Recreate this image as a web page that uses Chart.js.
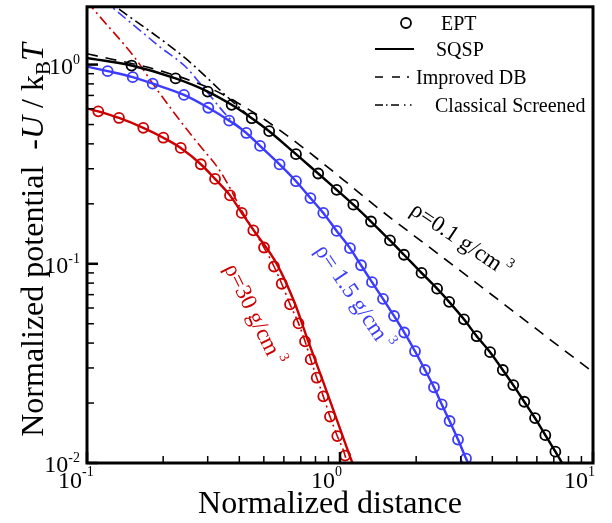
<!DOCTYPE html>
<html>
<head>
<meta charset="utf-8">
<script src="https://cdn.jsdelivr.net/npm/chart.js@4/dist/chart.umd.min.js"></script>
<style>
  html, body { margin: 0; padding: 0; background: #fff; }
  canvas { display: block; }
</style>
</head>
<body>
<canvas id="c" width="612" height="523" style="width:612px;height:523px"></canvas>
<script>
// ---------- ρ = 0.1 g/cm³ (black) ----------
const ept01X = [0.150, 0.224, 0.300, 0.373, 0.448, 0.525, 0.670, 0.820, 0.970, 1.129, 1.326, 1.576, 1.79, 2.10, 2.42, 2.70, 3.09, 3.47, 3.92, 4.40, 4.84, 5.35, 5.90, 6.48, 7.10];
const ept01Y = [0.989, 0.852, 0.732, 0.628, 0.538, 0.463, 0.355, 0.284, 0.235, 0.198, 0.163, 0.131, 0.111, 0.090, 0.075, 0.0644, 0.0526, 0.0433, 0.0360, 0.0293, 0.0246, 0.0203, 0.0168, 0.0138, 0.0114];
const sqsp01X = [0.1, 0.150, 0.224, 0.300, 0.373, 0.448, 0.525, 0.670, 0.820, 0.970, 1.129, 1.326, 1.576, 1.79, 2.10, 2.42, 2.70, 3.09, 3.47, 3.92, 4.40, 4.84, 5.35, 5.90, 6.48, 7.10, 7.55];
const sqsp01Y = [1.08, 0.989, 0.852, 0.732, 0.628, 0.538, 0.463, 0.355, 0.284, 0.235, 0.198, 0.163, 0.131, 0.111, 0.090, 0.075, 0.0644, 0.0526, 0.0433, 0.0360, 0.0293, 0.0246, 0.0203, 0.0168, 0.0138, 0.0114, 0.0100];
const db01X = [0.1, 0.197, 0.321, 0.448, 0.521, 0.738, 1.031, 1.439, 2.2, 3.265, 7.19, 10];
const db01Y = [1.134, 0.927, 0.740, 0.582, 0.514, 0.371, 0.264, 0.187, 0.124, 0.0847, 0.0393, 0.0286];
const cs01X = [0.1, 0.133, 0.244, 0.373, 0.448, 0.525, 0.670, 0.820, 0.970, 1.129, 1.326, 1.576, 1.79, 2.10, 2.42, 2.70, 3.09, 3.47, 3.92, 4.40, 4.84, 5.35, 5.90, 6.48, 7.10, 7.55];
const cs01Y = [2.50, 1.91, 1.08, 0.658, 0.538, 0.463, 0.355, 0.284, 0.235, 0.198, 0.163, 0.131, 0.111, 0.090, 0.075, 0.0644, 0.0526, 0.0433, 0.0360, 0.0293, 0.0246, 0.0203, 0.0168, 0.0138, 0.0114, 0.0100];

// ---------- ρ = 1.5 g/cm³ (blue) ----------
const ept15X = [0.1207, 0.1516, 0.1818, 0.2417, 0.3016, 0.3648, 0.4263, 0.4829, 0.577, 0.670, 0.764, 0.859, 0.970, 1.095, 1.211, 1.338, 1.479, 1.635, 1.794, 1.979, 2.168, 2.352, 2.523, 2.711, 2.927, 3.148];
const ept15Y = [0.927, 0.865, 0.802, 0.704, 0.607, 0.523, 0.4536, 0.3905, 0.3154, 0.2597, 0.2138, 0.180, 0.1462, 0.1198, 0.0983, 0.0809, 0.0667, 0.0547, 0.0452, 0.0364, 0.0293, 0.0240, 0.0197, 0.01625, 0.01311, 0.01053];
const sqsp15X = [0.1, 0.1207, 0.1516, 0.1818, 0.2417, 0.3016, 0.3648, 0.4263, 0.4829, 0.577, 0.670, 0.764, 0.859, 0.970, 1.095, 1.211, 1.338, 1.479, 1.635, 1.794, 1.979, 2.168, 2.352, 2.523, 2.711, 2.927, 3.148, 3.206];
const sqsp15Y = [0.977, 0.927, 0.865, 0.802, 0.704, 0.607, 0.523, 0.4536, 0.3905, 0.3154, 0.2597, 0.2138, 0.180, 0.1462, 0.1198, 0.0983, 0.0809, 0.0667, 0.0547, 0.0452, 0.0364, 0.0293, 0.0240, 0.0197, 0.01625, 0.01311, 0.01053, 0.0100];
const cs15X = [0.1, 0.1252, 0.197, 0.2442, 0.284, 0.362, 0.4263, 0.4829, 0.577, 0.670, 0.764, 0.859, 0.970, 1.095, 1.211, 1.338, 1.479, 1.635, 1.794, 1.979, 2.168, 2.352, 2.523, 2.711, 2.927, 3.148, 3.206];
const cs15Y = [2.46, 1.947, 1.21, 0.981, 0.787, 0.544, 0.4536, 0.3905, 0.3154, 0.2597, 0.2138, 0.180, 0.1462, 0.1198, 0.0983, 0.0809, 0.0667, 0.0547, 0.0452, 0.0364, 0.0293, 0.0240, 0.0197, 0.01625, 0.01311, 0.01053, 0.0100];

// ---------- ρ = 30 g/cm³ (red) ----------
const ept30X = [0.1108, 0.1338, 0.1669, 0.2003, 0.2347, 0.2818, 0.3207, 0.3675, 0.4089, 0.4543, 0.5008, 0.5486, 0.5884, 0.6346, 0.6855, 0.7274, 0.7661, 0.8090, 0.859, 0.913, 0.9757, 1.047];
const ept30Y = [0.5824, 0.5395, 0.4813, 0.4294, 0.3816, 0.3160, 0.2667, 0.2205, 0.1801, 0.1472, 0.1207, 0.0969, 0.0794, 0.0626, 0.0502, 0.0408, 0.0331, 0.0268, 0.0216, 0.0171, 0.01365, 0.01090];
const sqsp30X = [0.1, 0.1108, 0.1338, 0.1669, 0.2003, 0.2347, 0.2818, 0.3207, 0.3675, 0.4089, 0.457, 0.5637, 0.664, 0.747, 0.845, 0.960, 1.090, 1.120];
const sqsp30Y = [0.603, 0.5824, 0.5395, 0.4813, 0.4294, 0.3816, 0.3160, 0.2667, 0.2205, 0.1801, 0.1466, 0.0994, 0.0630, 0.0412, 0.0270, 0.0172, 0.01096, 0.0100];
const cs30X = [0.1, 0.1126, 0.1548, 0.1828, 0.2227, 0.2754, 0.3303, 0.3675, 0.4089, 0.4543, 0.5008, 0.5486, 0.5884, 0.6346, 0.6855, 0.7274, 0.7661, 0.8090, 0.859, 0.913, 0.9757, 1.047, 1.065];
const cs30Y = [2.07, 1.736, 1.08, 0.796, 0.565, 0.400, 0.301, 0.240, 0.1850, 0.1480, 0.1207, 0.0969, 0.0794, 0.0626, 0.0502, 0.0408, 0.0331, 0.0268, 0.0216, 0.0171, 0.01365, 0.01090, 0.0098];

// ---------- axes ----------
const xRange = [0.1, 10];
const yRange = [0.01, 1.95];
const xTickExps = [-1, 0, 1];
const yTickExps = [-2, -1, 0];
const minorSteps = [2, 3, 4, 5, 6, 7, 8, 9];

// ---------- text ----------
const legendLabels = ['EPT', 'SQSP', 'Improved DB', 'Classical Screened'];
const curveLabels = [
  { text: 'ρ=0.1 g/cm', sup: '3', color: '#000000' },
  { text: 'ρ= 1.5 g/cm', sup: '3', color: '#3c3cff' },
  { text: 'ρ=30 g/cm', sup: '3', color: '#cc0000' }
];

const BLACK = '#000000', BLUE = '#3c3cff', RED = '#cc0000';
const FONT = "'Liberation Serif', 'Times New Roman', serif";
const DASH = [11, 8];
const DASHDOT = [10, 4, 2, 4];

const pts = (xs, ys) => xs.map((x, i) => ({ x: x, y: ys[i] }));
const marks = (xs, ys, c) => ({
  data: pts(xs, ys), showLine: false, pointRadius: 5, pointHoverRadius: 5,
  pointBorderWidth: 1.8, pointBorderColor: c, pointBackgroundColor: 'rgba(0,0,0,0)'
});
const curve = (xs, ys, c, w, dash) => ({
  data: pts(xs, ys), showLine: true, borderColor: c, borderWidth: w, borderDash: dash,
  pointRadius: 0, pointHoverRadius: 0, cubicInterpolationMode: 'monotone', fill: false
});

function drawPower(ctx, exp, x, baseY, supDy, alignRight, size, supSize) {
  const base = '10', sup = String(exp);
  ctx.font = size + 'px ' + FONT;
  const wb = ctx.measureText(base).width;
  ctx.font = supSize + 'px ' + FONT;
  const ws = ctx.measureText(sup).width;
  const x0 = alignRight ? x - wb - ws : x - wb;
  ctx.font = size + 'px ' + FONT;
  ctx.fillText(base, x0, baseY);
  ctx.font = supSize + 'px ' + FONT;
  ctx.fillText(sup, x0 + wb, baseY - supDy);
}

const decorations = {
  id: 'decorations',
  afterDatasetsDraw(chart) {
    const { ctx, chartArea: a, scales } = chart;
    const sx = scales.x, sy = scales.y;
    ctx.save();
    ctx.strokeStyle = BLACK;
    ctx.fillStyle = BLACK;
    ctx.setLineDash([]);
    // inward ticks on bottom axis
    xTickExps.forEach((e, k) => {
      const d = Math.pow(10, e);
      const px = sx.getPixelForValue(d);
      ctx.lineWidth = 2.5;
      ctx.beginPath(); ctx.moveTo(px, a.bottom); ctx.lineTo(px, a.bottom - 11); ctx.stroke();
      if (k < xTickExps.length - 1) {
        minorSteps.forEach(m => {
          const mx = sx.getPixelForValue(m * d);
          ctx.lineWidth = 1.5;
          ctx.beginPath(); ctx.moveTo(mx, a.bottom); ctx.lineTo(mx, a.bottom - 7); ctx.stroke();
        });
      }
    });
    // inward ticks on left axis
    yTickExps.forEach(e => {
      const d = Math.pow(10, e);
      const py = sy.getPixelForValue(d);
      ctx.lineWidth = 2.5;
      ctx.beginPath(); ctx.moveTo(a.left, py); ctx.lineTo(a.left + 11, py); ctx.stroke();
      minorSteps.forEach(m => {
        const v = m * d;
        if (v > yRange[1]) return;
        const my = sy.getPixelForValue(v);
        ctx.lineWidth = 1.5;
        ctx.beginPath(); ctx.moveTo(a.left, my); ctx.lineTo(a.left + 7, my); ctx.stroke();
      });
    });
    // frame
    ctx.lineWidth = 3;
    ctx.strokeRect(a.left, a.top, a.right - a.left, a.bottom - a.top);
    ctx.restore();
  },
  afterDraw(chart) {
    const { ctx, chartArea: a, scales } = chart;
    const sx = scales.x, sy = scales.y;
    ctx.save();
    ctx.fillStyle = BLACK;
    ctx.textBaseline = 'alphabetic';
    ctx.textAlign = 'left';

    // tick labels
    xTickExps.forEach(e => {
      const px = sx.getPixelForValue(Math.pow(10, e));
      drawPower(ctx, e, px - 5, a.bottom + 25, 12, false, 24, 14);
    });
    yTickExps.forEach(e => {
      const py = sy.getPixelForValue(Math.pow(10, e));
      drawPower(ctx, e, 80, py + 9, 10, true, 24, 14);
    });

    // axis titles
    ctx.font = '32px ' + FONT;
    ctx.textAlign = 'center';
    ctx.fillText('Normalized distance', 330, 513);
    ctx.textAlign = 'left';

    const parts = [
      { t: 'Normalized potential  -', f: '32px ' + FONT, dy: 0 },
      { t: 'U', f: 'italic 32px ' + FONT, dy: 0 },
      { t: ' / k', f: '32px ' + FONT, dy: 0 },
      { t: 'B', f: '21px ' + FONT, dy: 7 },
      { t: 'T', f: 'italic 32px ' + FONT, dy: 0 }
    ];
    let total = 0;
    parts.forEach(p => { ctx.font = p.f; p.w = ctx.measureText(p.t).width; total += p.w; });
    ctx.save();
    ctx.translate(43, 240);
    ctx.rotate(-Math.PI / 2);
    let cx = -total / 2;
    parts.forEach(p => { ctx.font = p.f; ctx.fillText(p.t, cx, p.dy); cx += p.w; });
    ctx.restore();

    // legend
    ctx.font = '20px ' + FONT;
    ctx.lineWidth = 1.8;
    ctx.strokeStyle = BLACK;
    ctx.beginPath(); ctx.arc(406, 23, 5, 0, Math.PI * 2); ctx.stroke();
    ctx.fillText(legendLabels[0], 441, 30);
    ctx.lineWidth = 2.2;
    ctx.beginPath(); ctx.moveTo(375, 49); ctx.lineTo(414, 49); ctx.stroke();
    ctx.fillText(legendLabels[1], 436, 56);
    ctx.lineWidth = 1.6;
    ctx.setLineDash([8, 9, 8, 7, 2, 100]);
    ctx.beginPath(); ctx.moveTo(375, 77); ctx.lineTo(410, 77); ctx.stroke();
    ctx.fillText(legendLabels[2], 416, 84);
    ctx.setLineDash([8, 3, 1.5, 3.5, 8, 5, 1.5, 4.5, 1.5, 100]);
    ctx.beginPath(); ctx.moveTo(375, 105); ctx.lineTo(414, 105); ctx.stroke();
    ctx.setLineDash([]);
    ctx.fillText(legendLabels[3], 435, 112);

    // curve labels
    const place = [
      { x: 409, y: 213, ang: 34 },
      { x: 314.6, y: 250.5, ang: 56 },
      { x: 224, y: 268, ang: 64 }
    ];
    curveLabels.forEach((c, i) => {
      const p = place[i];
      ctx.save();
      ctx.translate(p.x, p.y);
      ctx.rotate(p.ang * Math.PI / 180);
      ctx.fillStyle = c.color;
      ctx.font = '23px ' + FONT;
      ctx.fillText(c.text, 0, 0);
      const w = ctx.measureText(c.text).width;
      ctx.font = '14px ' + FONT;
      ctx.fillText(c.sup, w + 4, -11);
      ctx.restore();
    });
    ctx.restore();
  }
};

new Chart(document.getElementById('c'), {
  type: 'scatter',
  data: {
    datasets: [
      marks(ept01X, ept01Y, BLACK),
      marks(ept15X, ept15Y, BLUE),
      marks(ept30X, ept30Y, RED),
      curve(sqsp01X, sqsp01Y, BLACK, 2.4, []),
      curve(sqsp15X, sqsp15Y, BLUE, 2.4, []),
      curve(sqsp30X, sqsp30Y, RED, 2.4, []),
      curve(db01X, db01Y, BLACK, 1.6, DASH),
      curve(cs01X, cs01Y, BLACK, 1.6, DASHDOT),
      curve(cs15X, cs15Y, BLUE, 1.6, DASHDOT),
      curve(cs30X, cs30Y, RED, 1.6, DASHDOT)
    ]
  },
  options: {
    responsive: false,
    animation: false,
    devicePixelRatio: 1,
    events: [],
    layout: { padding: { left: 87, right: 19, top: 1, bottom: 60 } },
    scales: {
      x: { type: 'logarithmic', min: xRange[0], max: xRange[1], display: false },
      y: { type: 'logarithmic', min: yRange[0], max: yRange[1], display: false }
    },
    plugins: { legend: { display: false }, tooltip: { enabled: false } }
  },
  plugins: [decorations]
});
</script>
</body>
</html>
